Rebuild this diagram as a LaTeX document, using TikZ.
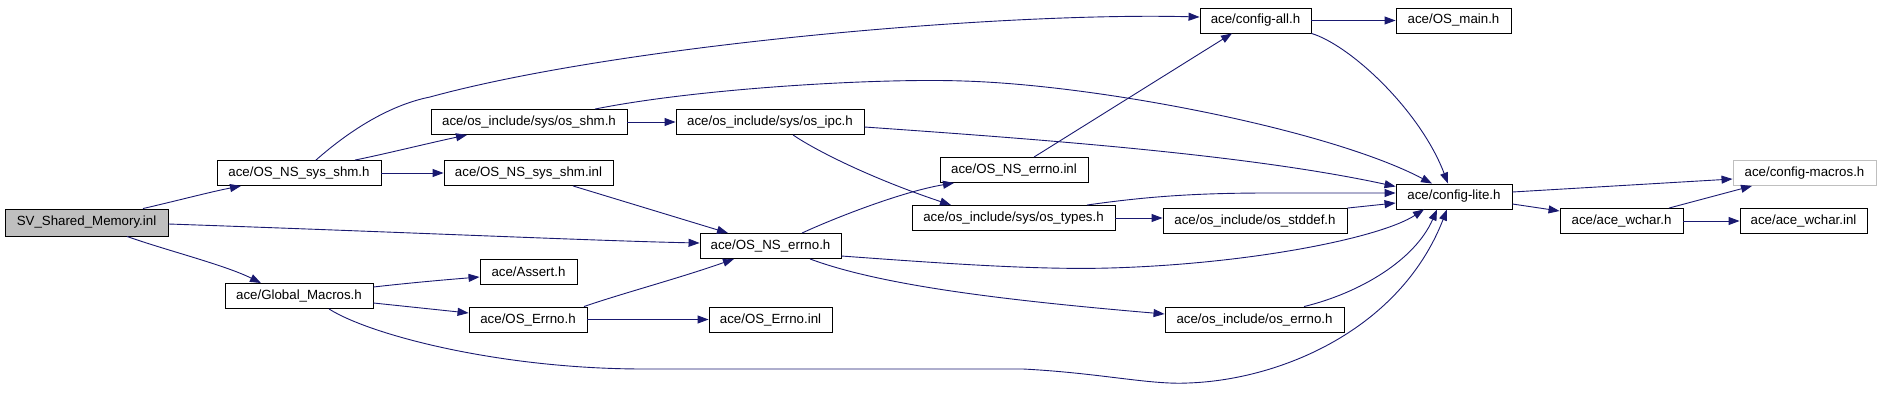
\documentclass[tikz,border=0pt]{standalone}
\usepackage{fontspec}
\setmainfont{Liberation Sans}
\usetikzlibrary{arrows.meta}
\definecolor{edgeblue}{HTML}{191970}
\definecolor{boxgray}{HTML}{BFBFBF}
\begin{document}
\begin{tikzpicture}[x=1pt,y=-1pt,
  filebox/.style={draw=black, line width=0.9pt, inner sep=0pt, minimum height=25pt,
    font=\fontsize{13.3}{15}\selectfont, anchor=center},
  dep/.style={draw=edgeblue, line width=0.9pt, -{Triangle[length=11pt,width=8pt]}}
]
\useasboundingbox (0,0) rectangle (1880,420);

% nodes
\node[filebox, fill=boxgray, minimum width=163pt, minimum height=27pt] (sv) at (86.5,222.5) {SV\_Shared\_Memory.inl};
\node[filebox, minimum width=164pt] (sysshm) at (299,173) {ace/OS\_NS\_sys\_shm.h};
\node[filebox, minimum width=196pt] (osshm) at (529,122) {ace/os\_include/sys/os\_shm.h};
\node[filebox, minimum width=169pt] (sysshminl) at (528.5,173) {ace/OS\_NS\_sys\_shm.inl};
\node[filebox, minimum width=148pt] (global) at (299,296) {ace/Global\_Macros.h};
\node[filebox, minimum width=97pt] (assert) at (528.5,271.5) {ace/Assert.h};
\node[filebox, minimum width=118pt] (oserrno) at (528,319.5) {ace/OS\_Errno.h};
\node[filebox, minimum width=111pt] (configall) at (1255.5,20.5) {ace/config-all.h};
\node[filebox, minimum width=115pt] (osmain) at (1453.5,20.5) {ace/OS\_main.h};
\node[filebox, minimum width=188pt] (osipc) at (770,122) {ace/os\_include/sys/os\_ipc.h};
\node[filebox, minimum width=148pt] (errnoinl) at (1014,170) {ace/OS\_NS\_errno.inl};
\node[filebox, minimum width=203pt] (ostypes) at (1013.5,218) {ace/os\_include/sys/os\_types.h};
\node[filebox, minimum width=184pt] (osstddef) at (1255,221) {ace/os\_include/os\_stddef.h};
\node[filebox, minimum width=141pt] (osnserrno) at (770.5,246) {ace/OS\_NS\_errno.h};
\node[filebox, minimum width=123pt] (oserrnoinl) at (770.5,319.5) {ace/OS\_Errno.inl};
\node[filebox, minimum width=179pt] (oserrnoh) at (1254.5,319.5) {ace/os\_include/os\_errno.h};
\node[filebox, minimum width=116pt] (configlite) at (1454,196.5) {ace/config-lite.h};
\node[filebox, draw=boxgray, minimum width=143pt] (configmacros) at (1804.5,173) {ace/config-macros.h};
\node[filebox, minimum width=123pt] (acewchar) at (1621.5,221) {ace/ace\_wchar.h};
\node[filebox, minimum width=127pt] (acewcharinl) at (1803.5,221) {ace/ace\_wchar.inl};

% edges
\draw[dep] ([xshift=56.5pt]sv.north) .. controls (180,200) and (210,192) .. ([xshift=-58pt]sysshm.south);
\draw[dep] ([yshift=-1.5pt]sv.east) .. controls (400,232) and (600,241) .. ([yshift=3pt]osnserrno.west);
\draw[dep] ([xshift=40.5pt]sv.south) .. controls (165,250) and (225,265) .. ([xshift=-38pt]global.north);
\draw[dep] ([xshift=17pt]sysshm.north) .. controls (350,130) and (390,105) .. (430,97)
   .. controls (620,45) and (1000,12) .. ([yshift=3.5pt]configall.west);
\draw[dep] ([xshift=56pt]sysshm.north) .. controls (385,154) and (425,144) .. ([xshift=-62pt]osshm.south);
\draw[dep] (sysshm.east) -- (sysshminl.west);
\draw[dep] (osshm.east) -- (osipc.west);
\draw[dep] ([xshift=66pt]osshm.north) .. controls (700,88) and (880,78) .. (963,81)
   .. controls (1100,85) and (1330,130) .. ([xshift=-22pt]configlite.north);
\draw[dep] ([yshift=-5pt]osipc.east) .. controls (1050,140) and (1250,155) .. ([yshift=10pt]configlite.west);
\draw[dep] ([xshift=23pt]osipc.south) .. controls (815,150) and (870,178) .. ([xshift=-62.5pt]ostypes.north);
\draw[dep] ([xshift=44.5pt]sysshminl.south) -- ([xshift=-42.5pt]osnserrno.north);
\draw[dep] ([xshift=31.5pt]osnserrno.north) .. controls (830,220) and (900,192) .. ([xshift=-60pt]errnoinl.south);
\draw[dep] ([xshift=20pt]errnoinl.north) -- ([xshift=-23.5pt]configall.south);
\draw[dep] ([yshift=-10pt]osnserrno.east) .. controls (950,264) and (1040,270) .. (1110,268)
   .. controls (1250,264) and (1380,238) .. ([xshift=-30pt]configlite.south);
\draw[dep] ([xshift=39.5pt]osnserrno.south) .. controls (880,285) and (1000,300) .. ([yshift=5.5pt]oserrnoh.west);
\draw[dep] ([xshift=73.5pt]ostypes.north) .. controls (1150,196) and (1200,193) .. (1270,193)
   -- ([yshift=3.5pt]configlite.west);
\draw[dep] (ostypes.east) -- (ostypes.east -| osstddef.west);
\draw[dep] (osstddef.north east) -- ([yshift=-6.5pt]configlite.west);
\draw[dep] ([xshift=49.5pt]oserrnoh.north) .. controls (1360,293) and (1415,260) .. ([xshift=-17pt]configlite.south);
\draw[dep] ([yshift=9pt]global.east) .. controls (400,284) and (430,281) .. ([yshift=-5.5pt]assert.west);
\draw[dep] ([yshift=-7pt]global.east) -- ([yshift=6.5pt]oserrno.west);
\draw[dep] ([xshift=30pt]global.south) .. controls (370,335) and (500,369) .. (644,369)
   -- (1023,369) .. controls (1100,373) and (1150,385) .. (1188,383)
   .. controls (1280,380) and (1400,330) .. ([xshift=-7pt]configlite.south);
\draw[dep] ([xshift=56pt]oserrno.north) .. controls (620,294) and (680,278) .. ([xshift=-36.5pt]osnserrno.south);
\draw[dep] (oserrno.east) -- (oserrnoinl.west);
\draw[dep] (configall.east) -- (osmain.west);
\draw[dep] (configall.south east) .. controls (1350,45) and (1420,110) .. ([xshift=-6pt]configlite.north);
\draw[dep] ([yshift=4.5pt]configlite.east) -- ([yshift=-6pt]configmacros.west);
\draw[dep] ([yshift=-7.5pt]configlite.east) -- ([yshift=10pt]acewchar.west);
\draw[dep] ([xshift=47.5pt]acewchar.north) -- ([xshift=-52.5pt]configmacros.south);
\draw[dep] (acewchar.east) -- (acewcharinl.west);
\end{tikzpicture}
\end{document}
